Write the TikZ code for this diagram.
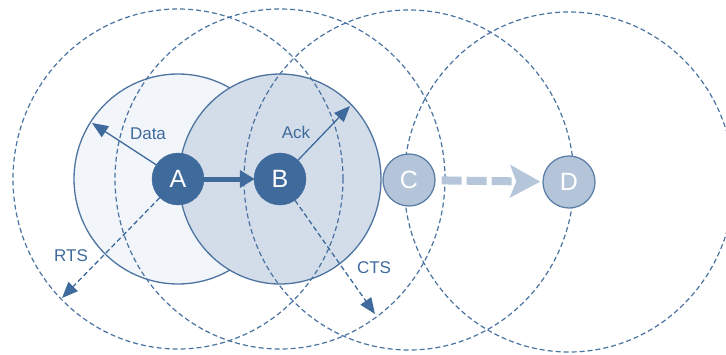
\documentclass[tikz,border=0pt]{standalone}
\usepackage{fontspec}
\setmainfont{Liberation Sans}
\usetikzlibrary{arrows.meta}

\definecolor{stationblue}{HTML}{3E6A9C}
\definecolor{rangeline}{HTML}{4A73A1}
\definecolor{ringline}{HTML}{4D74A0}
\definecolor{fillA}{HTML}{F2F5FA}
\definecolor{fillB}{HTML}{D3DDE9}
\definecolor{farfill}{HTML}{B4C5DA}
\definecolor{farline}{HTML}{5C80A8}
\definecolor{fararrow}{HTML}{B5C6DA}

\begin{document}
\begin{tikzpicture}[x=1pt,y=-1pt,
  rangecircle/.style={draw=rangeline, line width=1.2pt, dash pattern=on 5pt off 3pt},
  coverage/.style={draw=ringline, line width=1.3pt},
  station/.style={circle, fill=stationblue, draw=stationblue, minimum size=52pt, inner sep=0pt,
    text=white, font=\fontsize{25}{25}\selectfont},
  farstation/.style={circle, fill=farfill, draw=farline, line width=1.3pt, minimum size=52pt, inner sep=0pt,
    text=white, font=\fontsize{25}{25}\selectfont},
  signal/.style={draw=stationblue, line width=1.3pt, -{Triangle[length=16pt,width=13pt]}},
  dashsignal/.style={signal, dash pattern=on 5pt off 3pt},
  label/.style={text=stationblue, font=\fontsize{17}{17}\selectfont, inner sep=0pt},
  bigarrow/.style={draw=stationblue, line width=5pt, -{Triangle[length=15pt,width=17pt]}, shorten <=-1pt, shorten >=-1pt},
  fadearrow/.style={draw=fararrow, line width=8pt, dash pattern=on 20pt off 5pt,
    -{Stealth[length=30pt,width=32pt,inset=6pt]}, shorten <=6pt, shorten >=2pt}
]
\clip (0,0) rectangle (726,354);

% station positions
\coordinate (pA) at (178,179);
\coordinate (pB) at (280,179);
\coordinate (pC) at (409,180);
\coordinate (pD) at (569,182);

% transmission areas of A and B
\draw[coverage, fill=fillA] (pA) ellipse [x radius=104pt, y radius=105pt];
\draw[coverage, fill=fillB] (pB) ellipse [x radius=101pt, y radius=105pt];

% interference ranges
\foreach \p in {pA,pB,pC,pD}
  \draw[rangecircle] (\p) ellipse [x radius=165pt, y radius=170pt];

% stations
\node[station] (A) at (pA) {A};
\node[station] (B) at (pB) {B};
\node[farstation] (C) at (pC) {C};
\node[farstation] (D) at (pD) {D};

% arrow ends
\coordinate (datatip) at (92,123);
\coordinate (acktip) at (350,106);
\coordinate (rtstip) at (62,298);
\coordinate (ctstip) at (375,314);

% messages
\draw[signal] (A) -- (datatip);
\draw[signal] (B) -- (acktip);
\draw[dashsignal] (A) -- (rtstip);
\draw[dashsignal] (B) -- (ctstip);
\draw[bigarrow] (A) -- (B);
\draw[fadearrow] (C) -- (D);

% labels
\node[label] (ldata) at (148,134) {Data};
\node[label] (lack) at (296,132) {Ack};
\node[label] (lrts) at (71,256) {RTS};
\node[label] (lcts) at (374,268) {CTS};
\end{tikzpicture}
\end{document}
